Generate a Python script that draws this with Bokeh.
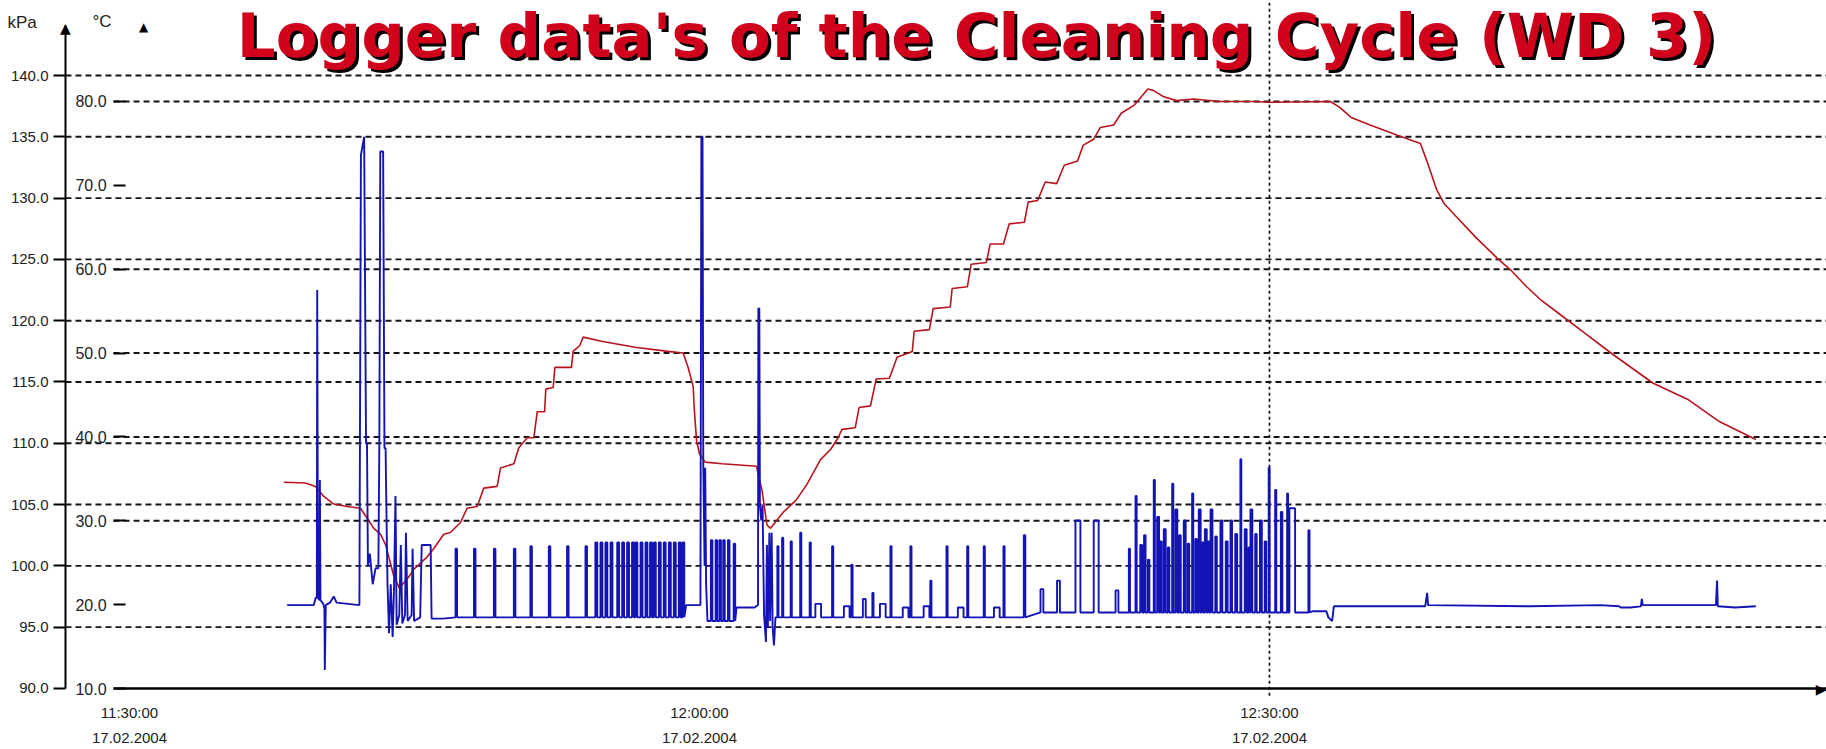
import pandas as pd
from bokeh.plotting import figure
from bokeh.models import (Range1d, LinearAxis, DatetimeAxis, FixedTicker, PrintfTickFormatter,
                          DatetimeTickFormatter, Label, ColumnDataSource)
from bokeh.embed import file_html
from bokeh.resources import INLINE

# ---------------- data (minutes after 11:30:00, 17.02.2004) ----------------
START = "2004-02-17 11:30:00"

# temperature (°C), red
temp_t = [8.12, 9.26, 9.79, 10.23, 10.75, 11.46, 12.16, 12.51, 12.86, 13.21, 13.47, 13.9, 14.2, 14.6,
          15.0, 15.67, 16.02, 16.54, 16.89, 17.42, 17.77, 18.3, 18.65, 19.35, 19.53, 20.23, 20.49,
          20.93, 21.28, 21.46, 21.85, 21.91, 22.3, 22.39, 23.26, 23.35, 23.7, 23.88, 24.84, 26.6,
          28.35, 29.14, 29.4, 29.67, 29.72, 29.85, 30.0, 30.3, 31.2, 33.0, 33.3, 33.55, 33.74, 34.4,
          35.1, 35.67, 36.37, 36.9, 37.3, 37.5, 38.2, 38.4, 39.0, 39.3, 40.0, 40.4, 41.2, 41.3, 42.1,
          42.3, 43.2, 43.3, 44.1, 44.3, 45.1, 45.3, 46.0, 46.3, 47.1, 47.3, 47.8, 48.2, 48.8, 49.2,
          49.9, 50.2, 50.75, 51.1, 51.8, 52.2, 52.9, 53.6, 53.9, 54.4, 55.1, 56.0, 57.4, 59.2, 60.0,
          63.2, 63.7, 64.3, 65.3, 66.7, 67.95, 68.3, 68.8, 69.2, 69.9, 70.9, 72.0, 72.7, 73.5, 74.3,
          75.3, 76.7, 78.1, 80.2, 82.0, 83.7, 85.6]
temp_c = [34.6, 34.5, 34.1, 32.9, 32.0, 31.7, 31.5, 30.3, 29.1, 28.4, 27.2, 23.5, 22.0, 23.0,
          24.3, 25.7, 26.7, 28.4, 28.6, 29.8, 31.5, 31.7, 33.9, 34.1, 36.3, 36.8, 38.7,
          39.9, 39.9, 43.0, 43.0, 45.7, 45.9, 48.3, 48.3, 50.2, 50.9, 51.9, 51.4, 50.7,
          50.2, 50.0, 48.3, 46.0, 43.5, 39.5, 38.0, 37.0, 36.8, 36.5, 33.5, 29.5, 29.1, 31.0,
          32.5, 34.4, 37.3, 38.5, 39.9, 40.9, 41.1, 43.5, 43.7, 46.9, 47.0, 49.5, 50.2, 52.6, 52.8,
          55.3, 55.5, 57.7, 57.9, 60.6, 60.8, 63.0, 63.0, 65.4, 65.6, 68.0, 68.2, 70.4, 70.2, 72.4,
          72.9, 74.8, 75.5, 76.9, 77.2, 78.6, 79.6, 81.5, 81.3, 80.6, 80.1, 80.3, 80.0, 80.0, 79.9,
          80.0, 79.3, 78.1, 77.2, 76.0, 75.0, 72.8, 69.5, 67.8, 66.1, 63.7, 61.3, 59.9, 58.0, 56.3,
          54.6, 52.2, 49.8, 46.4, 44.5, 41.8, 39.7]

# pressure (kPa), blue - irregular parts
press_t = [8.3, 9.7, 9.8, 9.86, 9.88, 9.92, 10.0, 10.02, 10.05, 10.2, 10.26, 10.28, 10.33, 10.55,
           10.75, 10.9, 11.5, 12.1, 12.18, 12.35, 12.45, 12.5, 12.55, 12.65, 12.8, 12.95, 13.1,
           13.15, 13.2, 13.35, 13.42, 13.48, 13.5, 13.58, 13.66, 13.75, 13.85, 13.92, 14.0, 14.06,
           14.2, 14.28, 14.36, 14.5, 14.55, 14.64, 14.85, 14.9, 14.98, 15.3, 15.38, 15.85, 15.9,
           16.5,
           29.3, 30.05, 30.1, 30.16, 30.2, 30.27, 30.3, 30.35, 30.42,
           31.95, 32.9, 33.08, 33.1, 33.15, 33.18, 33.25, 33.32, 33.4, 33.5, 33.55, 33.6, 33.68,
           33.72, 33.8, 33.85, 33.92, 34.0,
           62.3, 63.0, 63.1, 63.3, 63.39, 68.2, 68.3, 68.35, 73.7, 77.4, 78.4, 78.5, 79.0, 79.55,
           79.6, 79.65, 83.5, 83.56, 83.6, 84.5, 85.6]
press_kpa = [96.8, 96.8, 97.4, 97.4, 122.5, 97.4, 97.2, 107.0, 97.2, 96.9, 96.5, 91.5, 96.8, 97.0,
             97.5, 97.0, 96.9, 96.8, 133.5, 135.0, 110.0, 110.0, 100.0, 101.0, 98.5, 99.8, 99.8,
             110.0, 133.8, 133.8, 109.6, 109.6, 107.0, 98.5, 94.5, 98.5, 94.2, 98.0, 105.7, 95.2,
             96.0, 101.7, 95.3, 96.0, 102.7, 95.5, 96.0, 101.4, 95.5, 95.8, 101.7, 101.7, 95.7,
             95.7,
             96.8, 96.8, 135.0, 135.0, 108.3, 100.0, 108.0, 98.5, 95.5,
             96.6, 96.6, 96.8, 121.0, 121.0, 105.0, 103.7, 105.0, 96.0, 93.8, 101.7, 95.0, 102.7,
             95.5, 102.7, 95.0, 93.5, 95.8,
             96.3, 96.3, 95.8, 95.5, 96.7, 96.7, 97.8, 96.8, 96.7, 96.8, 96.7, 96.6, 96.6, 96.7,
             97.3, 96.8, 96.8, 98.8, 96.7, 96.6, 96.7]

# pressure pulses (start minute, peak kPa, duration in minutes, base kPa)
pulse_t = [17.16, 18.13, 19.18, 20.23, 21.1, 22.07, 23.03, 24.0, 24.52, 24.79, 25.05, 25.32,
           25.67, 25.93, 26.19, 26.45, 26.63, 26.9, 27.16, 27.4, 27.6, 27.86, 28.12, 28.39, 28.65,
           28.91, 29.1,
           30.6, 30.85, 31.05, 31.25, 31.5, 31.8,
           34.1, 34.35, 34.8, 35.3, 35.8, 36.1, 36.98, 37.6, 38.0, 38.6, 39.1, 39.5, 40.05, 40.7,
           41.1, 41.8, 42.15, 43.0, 43.6, 44.09, 44.96, 45.5, 46.0, 47.07,
           47.95, 48.82, 49.79, 50.75, 51.9, 52.6, 52.95, 53.2, 53.4, 53.6, 53.91, 54.09, 54.25,
           54.44, 54.65, 54.88, 55.05, 55.25, 55.49, 55.7, 55.93, 56.1, 56.28, 56.45, 56.6, 56.75,
           56.9, 57.15, 57.42, 57.7, 57.95, 58.2, 58.47, 58.7, 58.9, 59.0, 59.25, 59.5, 59.75,
           59.96, 60.3, 60.6, 60.93, 61.05, 62.05]
pulse_kpa = [101.4, 101.4, 101.4, 101.4, 101.6, 101.6, 101.6, 101.6, 101.9, 101.9, 101.9, 101.9,
             101.9, 101.9, 101.9, 101.9, 101.9, 101.9, 101.9, 101.9, 101.9, 101.9, 101.9, 101.9,
             101.9, 101.9, 101.9,
             102.1, 102.1, 102.1, 102.1, 102.1, 101.8,
             101.6, 102.3, 102.0, 102.7, 101.9, 96.9, 101.6, 96.7, 100.1, 97.3, 97.8, 96.9, 101.6,
             96.6, 101.6, 96.7, 98.8, 101.6, 96.6, 101.6, 101.6, 96.6, 101.6, 102.5,
             98.1, 98.8, 103.7, 103.7, 98.0, 101.4, 105.7, 101.7, 102.5, 100.5, 107.0, 104.0, 102.0,
             103.0, 101.5, 106.7, 104.6, 102.5, 103.7, 101.8, 105.9, 102.2, 104.6, 101.9, 103.0,
             102.0, 104.6, 102.4, 103.7, 102.0, 103.7, 102.6, 108.7, 103.0, 101.5, 104.6, 102.6,
             103.7, 102.0, 108.0, 106.2, 104.4, 105.9, 104.7, 102.9]
pulse_dur = [0.08] * 8 + [0.1] * 19 + [0.08] * 6 + \
            [0.06, 0.06, 0.06, 0.06, 0.06, 0.3, 0.06, 0.3, 0.06, 0.15, 0.06, 0.3, 0.06, 0.3,
             0.06, 0.3, 0.06, 0.06, 0.3, 0.06, 0.06, 0.3, 0.06, 0.08] + \
            [0.15, 0.15, 0.26, 0.26, 0.15, 0.06, 0.06, 0.1, 0.08, 0.08, 0.06, 0.1, 0.08,
             0.1, 0.08, 0.06, 0.1, 0.08, 0.1, 0.08, 0.06, 0.08, 0.1, 0.08, 0.1, 0.08,
             0.1, 0.08, 0.1, 0.1, 0.08, 0.1, 0.05, 0.1, 0.08, 0.1, 0.08, 0.1, 0.08,
             0.05, 0.06, 0.08, 0.05, 0.3, 0.06]
pulse_base = [95.8] * 27 + [95.5] * 6 + [95.8] * 24 + [96.2] * 45

kpa_ticks = [90.0, 95.0, 100.0, 105.0, 110.0, 115.0, 120.0, 125.0, 130.0, 135.0, 140.0]
kpa_grid = [95.0, 100.0, 105.0, 110.0, 115.0, 120.0, 125.0, 130.0, 135.0, 140.0]
degc_ticks = [10.0, 20.0, 30.0, 40.0, 50.0, 60.0, 70.0, 80.0]
degc_grid = [30.0, 40.0, 50.0, 60.0, 80.0]
time_ticks = [0.0, 30.0, 60.0]          # 11:30, 12:00, 12:30
cursor_time = 60.0                      # 12:30 marker

TITLE = "Logger data's of the Cleaning Cycle (WD 3)"

# ---------------- helpers ----------------
t0 = pd.Timestamp(START)
EPOCH_MS = (t0 - pd.Timestamp("1970-01-01")) / pd.Timedelta(milliseconds=1)


def ms(m):
    return EPOCH_MS + m * 60000.0


pts = list(zip(press_t, press_kpa))
for t, top, dur, base in zip(pulse_t, pulse_kpa, pulse_dur, pulse_base):
    pts += [(t, base), (t, top), (t + dur, top), (t + dur, base)]
pts.sort(key=lambda q: q[0])
blue_src = ColumnDataSource(dict(x=[ms(q[0]) for q in pts], y=[q[1] for q in pts]))
red_src = ColumnDataSource(dict(x=[ms(m) for m in temp_t], y=temp_c))

# ---------------- layout (frame = whole canvas, axes at fixed places) ----------------
W, H = 1826, 749
X_RANGE = (-6.79, 89.32)           # minutes
Y_KPA = (85.02, 146.12)
Y_DEGC = (2.73, 92.04)
KPA_AXIS_AT = -3.37                # minutes (left axis line)
DEGC_AXIS_AT = -0.84               # minutes (inner °C scale)

p = figure(width=W, height=H, output_backend="svg", toolbar_location=None,
           x_axis_type=None, y_axis_type=None, x_axis_location=None, y_axis_location=None,
           x_range=Range1d(ms(X_RANGE[0]), ms(X_RANGE[1])), y_range=Range1d(*Y_KPA),
           min_border=0, min_border_left=0, min_border_right=0, min_border_top=0,
           min_border_bottom=0, background_fill_color="white", border_fill_color="white",
           outline_line_color=None)
p.extra_y_ranges = {"degc": Range1d(*Y_DEGC)}
p.xgrid.visible = False
p.ygrid.visible = False

LBL_FONT = "Liberation Sans"
TXT = "#222222"
GRID_COL = "#141414"

# dashed grid lines (start at the axes, run to the right edge)
grid_kpa = ColumnDataSource(dict(x0=[ms(KPA_AXIS_AT)] * len(kpa_grid), x1=[ms(X_RANGE[1])] * len(kpa_grid),
                                 y=kpa_grid))
grid_degc = ColumnDataSource(dict(x0=[ms(DEGC_AXIS_AT)] * len(degc_grid),
                                  x1=[ms(X_RANGE[1])] * len(degc_grid), y=degc_grid))
p.segment(x0="x0", y0="y", x1="x1", y1="y", source=grid_kpa, line_color=GRID_COL,
          line_width=1.9, line_dash="6 4")
p.segment(x0="x0", y0="y", x1="x1", y1="y", source=grid_degc, y_range_name="degc",
          line_color=GRID_COL, line_width=1.9, line_dash="6 4")
# 12:30 cursor line
p.segment(x0=[ms(cursor_time)], y0=[89.4], x1=[ms(cursor_time)], y1=[Y_KPA[1]],
          line_color=GRID_COL, line_width=1.7, line_dash="3 3")

# series
p.line("x", "y", source=red_src, y_range_name="degc", line_color="#B8141E", line_width=1.6)
p.line("x", "y", source=blue_src, line_color="#1414B4", line_width=1.9)

# kPa axis
ax_p = LinearAxis(ticker=FixedTicker(ticks=kpa_ticks), formatter=PrintfTickFormatter(format="%.1f"),
                  fixed_location=ms(KPA_AXIS_AT), bounds=(90.0, 144.08))
ax_p.axis_line_color = "black"
ax_p.axis_line_width = 2
ax_p.major_tick_in = 0
ax_p.major_tick_out = 12
ax_p.major_tick_line_color = "black"
ax_p.major_tick_line_width = 2
ax_p.minor_tick_line_color = None
ax_p.major_label_standoff = 5
ax_p.major_label_text_font = LBL_FONT
ax_p.major_label_text_font_size = "15px"
ax_p.major_label_text_color = TXT
p.add_layout(ax_p, "left")

# °C scale
ax_c = LinearAxis(y_range_name="degc", ticker=FixedTicker(ticks=degc_ticks),
                  formatter=PrintfTickFormatter(format="%.1f"), fixed_location=ms(DEGC_AXIS_AT),
                  bounds=(10.0, 80.0))
ax_c.axis_line_color = None
ax_c.major_tick_in = 12
ax_c.major_tick_out = 0
ax_c.major_tick_line_color = "black"
ax_c.major_tick_line_width = 2
ax_c.minor_tick_line_color = None
ax_c.major_label_standoff = 7
ax_c.major_label_text_font = LBL_FONT
ax_c.major_label_text_font_size = "16px"
ax_c.major_label_text_color = TXT
p.add_layout(ax_c, "left")

# time axis
fmt = "%H:%M:%S\n%d.%m.%Y"
ax_x = DatetimeAxis(ticker=FixedTicker(ticks=[ms(m) for m in time_ticks]),
                    formatter=DatetimeTickFormatter(microseconds=fmt, milliseconds=fmt, seconds=fmt,
                                                    minsec=fmt, minutes=fmt, hourmin=fmt, hours=fmt,
                                                    days=fmt, months=fmt, years=fmt),
                    fixed_location=90.0, bounds=(ms(DEGC_AXIS_AT), ms(X_RANGE[1])))
ax_x.axis_line_color = "black"
ax_x.axis_line_width = 2.5
ax_x.major_tick_in = 0
ax_x.major_tick_out = 0
ax_x.minor_tick_line_color = None
ax_x.major_label_standoff = 16
ax_x.major_label_text_font = LBL_FONT
ax_x.major_label_text_font_size = "15px"
ax_x.major_label_text_color = TXT
ax_x.major_label_text_line_height = 1.45
p.add_layout(ax_x, "below")


# texts (screen units: from the canvas' left / bottom edge)
def lab(x, y, text, **kw):
    p.add_layout(Label(x=x, y=H - y, x_units="screen", y_units="screen", text=text, **kw))


for dx, dy, col in ((3, 3, "black"), (0, 0, "#D0021B")):
    lab(976 + dx, 35 + dy, TITLE, text_align="center", text_baseline="alphabetic",
        text_font="DejaVu Sans", text_font_style="bold", text_font_size="61px", text_color=col)

lab(7, 22, "kPa", text_baseline="alphabetic", text_font=LBL_FONT, text_font_size="17px",
    text_color=TXT)
lab(92, 21, "°C", text_baseline="alphabetic", text_font=LBL_FONT, text_font_size="17px",
    text_color=TXT)
lab(143, 26, "▲", text_align="center", text_baseline="alphabetic", text_font="DejaVu Sans",
    text_font_size="12px", text_color="black")
lab(65, 27, "▲", text_align="center", text_baseline="alphabetic", text_font="DejaVu Sans",
    text_font_size="14px", text_color="black")
lab(1826, 688, "▶", text_align="right", text_baseline="middle", text_font="DejaVu Sans",
    text_font_size="14px", text_color="black")

open("out.html", "w").write(file_html(p, INLINE))
